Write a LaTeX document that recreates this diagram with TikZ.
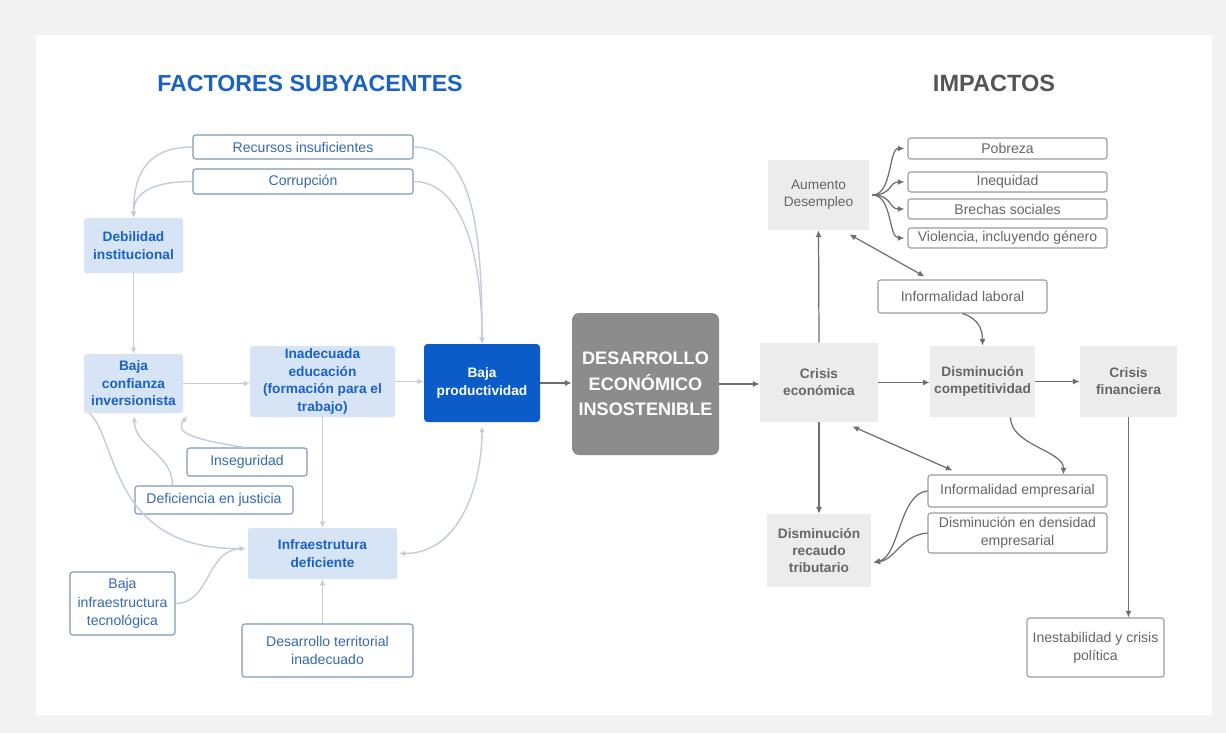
\documentclass[tikz,border=0pt]{standalone}
\usepackage{fontspec}
\setmainfont{Liberation Sans}
\usetikzlibrary{arrows.meta,calc}

\definecolor{pagegrey}{HTML}{F2F2F2}
\definecolor{headblue}{HTML}{1A62C4}
\definecolor{headgrey}{HTML}{555555}
\definecolor{lblue}{HTML}{D6E4F6}
\definecolor{dblue}{HTML}{0B5CC9}
\definecolor{bordblue}{HTML}{7E97B5}
\definecolor{txtblue}{HTML}{3569B0}
\definecolor{linkblue}{HTML}{C3CCD9}
\definecolor{boxgrey}{HTML}{ECECEC}
\definecolor{hubgrey}{HTML}{8C8C8C}
\definecolor{txtgrey}{HTML}{666666}
\definecolor{bordgrey}{HTML}{9A9A9A}
\definecolor{linkgrey}{HTML}{6E6E6E}

\tikzset{
  sz/.style 2 args={minimum width=#1*0.02cm, minimum height=#2*0.02cm},
  small/.style={font=\fontsize{8}{10.4}\selectfont},
  base/.style={inner sep=0pt, align=center},
  factor/.style={base, fill=lblue, text=headblue, rounded corners=1pt,
    font=\fontsize{7.8}{10}\selectfont\bfseries},
  cause/.style={base, small, draw=bordblue, line width=0.6pt, fill=white,
    text=txtblue, rounded corners=1.5pt},
  core/.style={base, fill=dblue, text=white, rounded corners=2pt,
    font=\fontsize{7.8}{10}\selectfont\bfseries},
  hub/.style={base, fill=hubgrey, text=white, rounded corners=4pt,
    font=\fontsize{10.3}{14.6}\selectfont\bfseries},
  effect/.style={base, fill=boxgrey, text=txtgrey,
    font=\fontsize{7.8}{9.6}\selectfont},
  effectb/.style={effect, font=\fontsize{7.8}{9.6}\selectfont\bfseries},
  outcome/.style={base, small, draw=bordgrey, line width=0.6pt, fill=white,
    text=txtgrey, rounded corners=1.5pt},
  blink/.style={draw=linkblue, line width=0.8pt},
  bto/.style={blink, -{Latex[length=3.4pt,width=3.2pt]}},
  bboth/.style={blink, {Latex[length=3.4pt,width=3.2pt]}-{Latex[length=3.4pt,width=3.2pt]}},
  glink/.style={draw=linkgrey, line width=0.7pt},
  gto/.style={glink, -{Latex[length=3.8pt,width=3.4pt]}},
  gboth/.style={glink, {Latex[length=3.8pt,width=3.4pt]}-{Latex[length=3.8pt,width=3.4pt]}},
}

\begin{document}
\begin{tikzpicture}[x=0.02cm, y=-0.02cm]
  % page and panel
  \fill[pagegrey] (0,0) rectangle (1226,733);
  \fill[white] (36,35) rectangle (1212,715);
  \useasboundingbox (0,0) rectangle (1226,733);

  % headings
  \node[text=headblue, font=\fontsize{13.2}{15}\selectfont\bfseries] (hleft) at (310,84) {FACTORES SUBYACENTES};
  \node[text=headgrey, font=\fontsize{13.4}{15}\selectfont\bfseries] (hright) at (994,83) {IMPACTOS};

  % underlying factors
  \node[cause, sz={220}{24}] (rec) at (303,147) {Recursos insuficientes};
  \node[cause, sz={220}{25}] (cor) at (303,181.5) {Corrupción};
  \node[factor, sz={99}{55}] (deb) at (133.5,245.5) {Debilidad\\institucional};
  \node[factor, sz={99}{59}] (conf) at (133.5,383.5) {Baja\\confianza\\inversionista};
  \node[factor, sz={145}{71}] (edu) at (322.5,381.5) {Inadecuada\\educación\\(formación para el\\trabajo)};
  \node[core, sz={116}{78}] (prod) at (482,383) {Baja\\productividad};
  \node[cause, sz={120}{28}] (inseg) at (247,462) {Inseguridad};
  \node[cause, sz={158}{28}] (just) at (214,500) {Deficiencia en justicia};
  \node[factor, sz={149}{51}] (infra) at (322.5,553.5) {Infraestrutura\\deficiente};
  \node[cause, sz={105}{63}] (tec) at (122.5,603.5) {Baja\\infraestructura\\tecnológica};
  \node[cause, sz={171}{53}] (terr) at (327.5,650.5) {Desarrollo territorial\\inadecuado};

  % central node
  \node[hub, sz={147}{142}] (des) at (645.5,384) {DESARROLLO\\ECONÓMICO\\INSOSTENIBLE};

  % impacts
  \node[effect, sz={101}{70}] (aum) at (818.5,195) {Aumento\\Desempleo};
  \node[outcome, sz={199}{21}] (pob) at (1007.5,148.5) {Pobreza};
  \node[outcome, sz={199}{20}] (ineq) at (1007.5,182) {Inequidad};
  \node[outcome, sz={199}{20}] (brech) at (1007.5,209) {Brechas sociales};
  \node[outcome, sz={199}{20}] (viol) at (1007.5,238) {Violencia, incluyendo género};
  \node[outcome, sz={169}{33}] (inflab) at (962.5,296.5) {Informalidad laboral};
  \node[effectb, sz={118}{79}] (crisis) at (819,382.5) {Crisis\\económica};
  \node[effectb, sz={105}{71}] (comp) at (982.5,381.5) {Disminución\\competitividad};
  \node[effectb, sz={97}{71}] (fin) at (1128.5,381.5) {Crisis\\financiera};
  \node[outcome, sz={179}{32}] (infemp) at (1017.5,491) {Informalidad empresarial};
  \node[outcome, sz={179}{40}] (dens) at (1017.5,533) {Disminución en densidad\\empresarial};
  \node[effectb, sz={104}{73}] (recaudo) at (819,550.5) {Disminución\\recaudo\\tributario};
  \node[outcome, sz={137}{59}] (inest) at (1095.5,647.5) {Inestabilidad y crisis\\política};

  % links among the underlying factors
  \draw[bto] (rec.west) .. controls +(-53,0) and +(0,-33) .. (deb.north);
  \draw[bto] (cor.west) .. controls +(-45,0) and +(0,-22) .. (deb.north);
  \draw[bto] (rec.east) .. controls +(58,0) and +(0,-120) .. (prod.north);
  \draw[bto] (cor.east) .. controls +(48,0) and +(0,-90) .. (prod.north);
  \draw[bto] (deb.south) -- (conf.north);
  \draw[bto] (conf.east) -- (conf.east -| edu.west);
  \draw[bto] (edu.east) -- (edu.east -| prod.west);
  \draw[bto] (edu.south) -- (infra.north);
  \draw[bto] (infra.south |- terr.north) -- (infra.south);
  \draw[bto] ($(inseg.north)+(-2,0)$) .. controls +(-52,-8) and +(-14,16) .. ($(conf.south east)+(4,3)$);
  \draw[bto] ($(just.north west)+(38,0)$) .. controls +(0,-32) and +(0,30) .. ($(conf.south)+(1,3)$);
  \draw[bto] ($(conf.south west)+(6,0)$) .. controls (118,440) and (110,550) .. ($(infra.west)+(-2,-5)$);
  \draw[bto] (tec.east) .. controls +(35,0) and +(-40,2) .. ($(infra.west)+(-2,-5)$);
  \draw[bboth] ($(infra.east)+(2,0)$) .. controls +(62,0) and +(0,55) .. ($(prod.south)+(0,4)$);

  % main chain
  \draw[gto] (prod.east) -- (prod.east -| des.west);
  \draw[gto] (des.east) -- (des.east -| crisis.west);

  % impacts links
  \draw[gto] (crisis.north) -- (aum.south);
  \draw[gto] (crisis.east) -- (crisis.east -| comp.west);
  \draw[gto] (comp.east) -- (comp.east -| fin.west);
  \draw[gto] (crisis.south) -- (recaudo.north);
  \draw[gto] (fin.south) -- (fin.south |- inest.north);
  \foreach \t in {pob,ineq,brech,viol}
    \draw[gto] ($(aum.east)+(3,0)$) .. controls +(20,0) and +(-16,0) .. ($(\t.west)+(-3,0)$);
  \draw[gboth] ($(aum.south east)+(-20,4)$) -- ($(inflab.north west)+(47,-3)$);
  \draw[gboth] ($(crisis.south east)+(-26,4)$) -- ($(infemp.north west)+(25,-4)$);
  \draw[gto] (inflab.south) .. controls +(16,5) and +(0,-16) .. (comp.north);
  \draw[gto] ($(comp.south)+(28,0)$) .. controls +(0,28) and +(0,-24) .. ($(infemp.north)+(46,0)$);
  \draw[gto] (infemp.west) .. controls +(-28,2) and +(26,-6) .. ($(recaudo.east)+(2,12)$);
  \draw[gto] (dens.west) .. controls +(-26,2) and +(22,-3) .. ($(recaudo.east)+(2,12)$);
\end{tikzpicture}
\end{document}
